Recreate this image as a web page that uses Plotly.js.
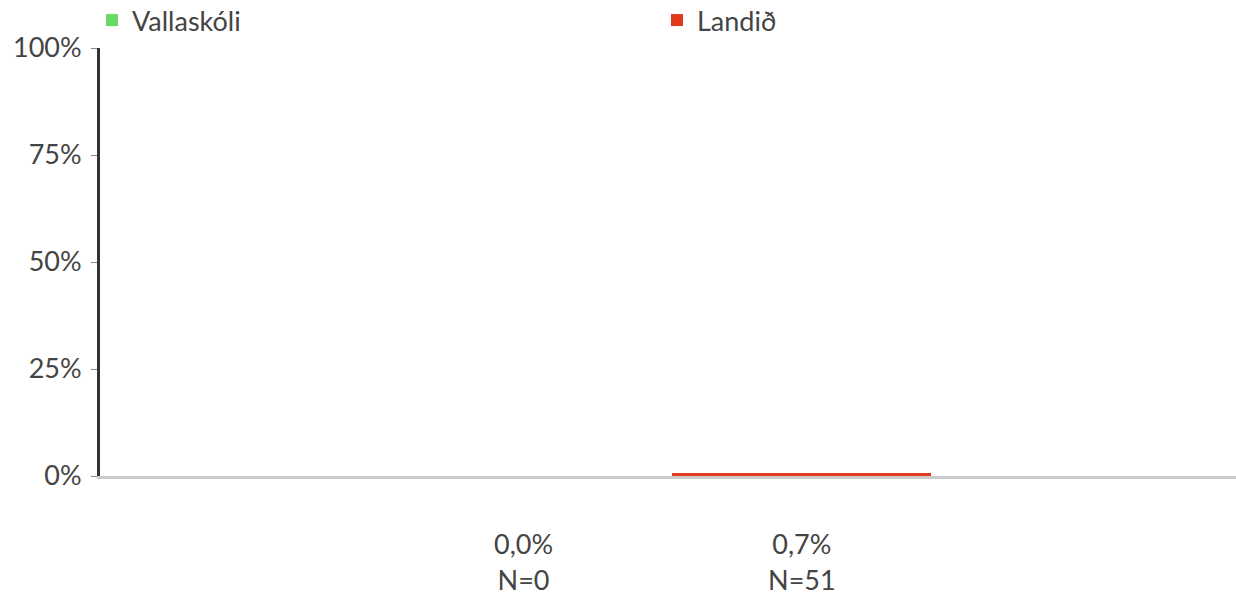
<!DOCTYPE html>
<html>
<head>
<meta charset="utf-8">
<script src="https://cdn.plot.ly/plotly-3.0.1.min.js"></script>
<style>html,body{margin:0;padding:0;background:#fff;}#chart{width:1236px;height:603px;}</style>
</head>
<body>
<div id="chart"></div>
<script>
const seriesNames = ["Vallaskóli", "Landið"];
const seriesValues = [0.0, 0.7];
const seriesN = [0, 51];
const seriesColors = ["#66d966", "#e03c1c"];
const yTickVals = [0, 25, 50, 75, 100];
const yTickText = ["0%", "25%", "50%", "75%", "100%"];

const positions = seriesNames.map((_, i) => i);
const labelText = seriesValues.map((v, i) =>
  v.toFixed(1).replace(".", ",") + "%<br>N=" + seriesN[i]);

const traces = seriesNames.map((name, i) => ({
  type: "bar",
  name: name,
  x: [positions[i]],
  y: [seriesValues[i]],
  width: 0.93,
  marker: {color: seriesColors[i]},
  hoverinfo: "skip"
}));

const font = "Lato, 'Open Sans', sans-serif";
const fs = 27;
const layout = {
  width: 1236, height: 603,
  margin: {l: 100, r: 0, t: 48, b: 127, autoexpand: false},
  paper_bgcolor: "#fff", plot_bgcolor: "#fff",
  font: {family: font, size: fs, color: "#444"},
  showlegend: true,
  legend: {
    orientation: "h", x: -8 / 1136, xanchor: "left", y: 1 + 3 / 428, yanchor: "bottom",
    entrywidth: 520, entrywidthmode: "pixels",
    font: {family: font, size: fs, color: "#444"}, bgcolor: "rgba(0,0,0,0)",
    traceorder: "normal"
  },
  xaxis: {
    type: "linear", range: [-1.522, 2.56],
    tickvals: positions, ticktext: labelText,
    ticks: "", showgrid: false, zeroline: false,
    showline: true, linecolor: "#cccccc", linewidth: 3,
    ticklabelstandoff: 43,
    tickfont: {family: font, size: fs, color: "#444"}
  },
  yaxis: {
    range: [0, 100], tickvals: yTickVals, ticktext: yTickText,
    ticks: "outside", ticklen: 6, tickwidth: 1, tickcolor: "#888",
    showgrid: false, zeroline: false,
    showline: true, linecolor: "#333333", linewidth: 3,
    ticklabelstandoff: 4,
    tickfont: {family: font, size: fs, color: "#444"}
  },
  bargap: 0
};

Plotly.newPlot("chart", traces, layout, {displayModeBar: false, staticPlot: true});
</script>
</body>
</html>
